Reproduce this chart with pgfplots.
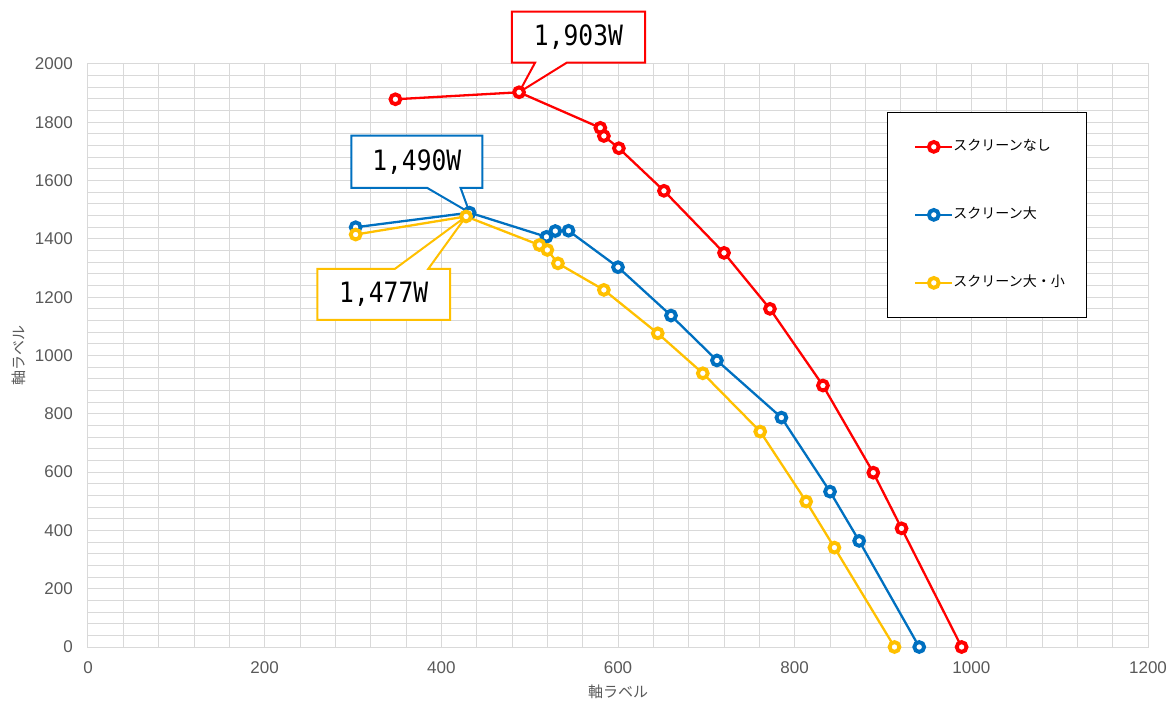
\documentclass[border=0pt]{standalone}
\usepackage{fontspec}
\setmainfont{Liberation Sans}
\newfontfamily\jp{Noto Sans CJK JP}
\newfontfamily\mono{DejaVu Sans Mono}
\usepackage{pgfplots}
\pgfplotsset{compat=1.18}
\definecolor{sred}{HTML}{FF0000}
\definecolor{sblue}{HTML}{0070C0}
\definecolor{syellow}{HTML}{FFC000}
\definecolor{gridgray}{HTML}{D9D9D9}
\definecolor{labelgray}{HTML}{595959}

\begin{document}
\begin{tikzpicture}[x=1pt,y=1pt]
\path (0,0) rectangle (1169,701);
\begin{axis}[
  at={(88pt,54pt)}, anchor=south west,
  scale only axis, width=1060pt, height=583pt,
  xmin=0, xmax=1200, ymin=0, ymax=2000,
  xtick={0,200,...,1200}, ytick={0,200,...,2000},
  minor tick num=4,
  grid=both,
  major grid style={draw=gridgray, line width=1pt},
  minor grid style={draw=gridgray, line width=1pt},
  axis line style={draw=gridgray, line width=1pt},
  major tick length=0pt, minor tick length=0pt,
  tick style={draw=none},
  /pgf/number format/assume math mode=true,
  /pgf/number format/set thousands separator={},
  ticklabel style={font=\fontsize{17}{18}\selectfont, text=labelgray, inner sep=0pt},
  yticklabel style={anchor=east, xshift=-15pt},
  xticklabel style={anchor=north, yshift=-14.5pt},
  xlabel={軸ラベル}, ylabel={軸ラベル},
  label style={font=\jp\fontsize{15}{18}\selectfont, text=labelgray},
  xlabel style={at={(axis description cs:0.5,-0.0772)}, anchor=center},
  ylabel style={at={(axis description cs:-0.0651,0.5)}, anchor=center},
  clip=false,
  every axis plot/.append style={line width=2.3pt, mark=*, mark size=4.9pt,
    mark options={fill=white, line width=3.9pt}},
  legend image code/.code={\draw[mark repeat=2, mark phase=2, #1]
    plot coordinates {(0pt,0pt) (18.5pt,0pt) (37pt,0pt)};},
  legend cell align=left,
  legend style={at={(0.7792,0.8702)}, anchor=north west, draw=none, fill=none,
    inner sep=0pt, row sep=54pt, font=\jp\fontsize{14}{16}\selectfont,
    nodes={inner sep=0pt, text height=11pt, text depth=3pt}},
]

% legend frame
\draw[black, line width=1.3pt, fill=white]
  (rel axis cs:0.7541,0.5655) rectangle (rel axis cs:0.9422,0.9165);

% callouts for the peak values
\draw[sred, line width=2pt, fill=white] (axis cs:488,1903)
  -- ++(16pt,29.6pt) -- ++(-23.3pt,0pt) -- ++(0pt,51pt) -- ++(133.3pt,0pt)
  -- ++(0pt,-51pt) -- ++(-78.3pt,0pt) -- cycle;
\path (axis cs:488,1903) ++(59.35pt,55.1pt)
  node[font=\mono\fontsize{28}{30}\selectfont, xscale=0.88] {1,903W};

\draw[sblue, line width=2pt, fill=white] (axis cs:432,1490)
  -- ++(-42.3pt,24.7pt) -- ++(-76pt,0pt) -- ++(0pt,52.3pt) -- ++(131pt,0pt)
  -- ++(0pt,-52.3pt) -- ++(-21.7pt,0pt) -- cycle;
\path (axis cs:432,1490) ++(-52.8pt,50.85pt)
  node[font=\mono\fontsize{28}{30}\selectfont, xscale=0.88] {1,490W};

\draw[syellow, line width=2pt, fill=white] (axis cs:428,1477)
  -- ++(-71pt,-52.3pt) -- ++(-77.7pt,0pt) -- ++(0pt,-51pt) -- ++(132.7pt,0pt)
  -- ++(0pt,51pt) -- ++(-21.7pt,0pt) -- cycle;
\path (axis cs:428,1477) ++(-82.35pt,-77.8pt)
  node[font=\mono\fontsize{28}{30}\selectfont, xscale=0.88] {1,477W};

\addplot[color=sred] coordinates {
  (348,1879) (488,1903) (580,1781) (584,1753) (601,1711) (652,1565)
  (720,1352) (772,1160) (832,897) (889,598) (921,407) (989,0)
};
\addlegendentry{スクリーンなし}

\addplot[color=sblue] coordinates {
  (303,1440) (432,1490) (519,1407) (529,1427) (544,1428) (600,1303)
  (660,1137) (712,983) (785,787) (840,533) (873,364) (941,0)
};
\addlegendentry{スクリーン大}

\addplot[color=syellow] coordinates {
  (303,1415) (428,1477) (511,1379) (520,1362) (532,1316) (584,1225)
  (645,1076) (696,939) (761,739) (813,499) (845,341) (913,0)
};
\addlegendentry{スクリーン大・小}

\end{axis}
\end{tikzpicture}
\end{document}
